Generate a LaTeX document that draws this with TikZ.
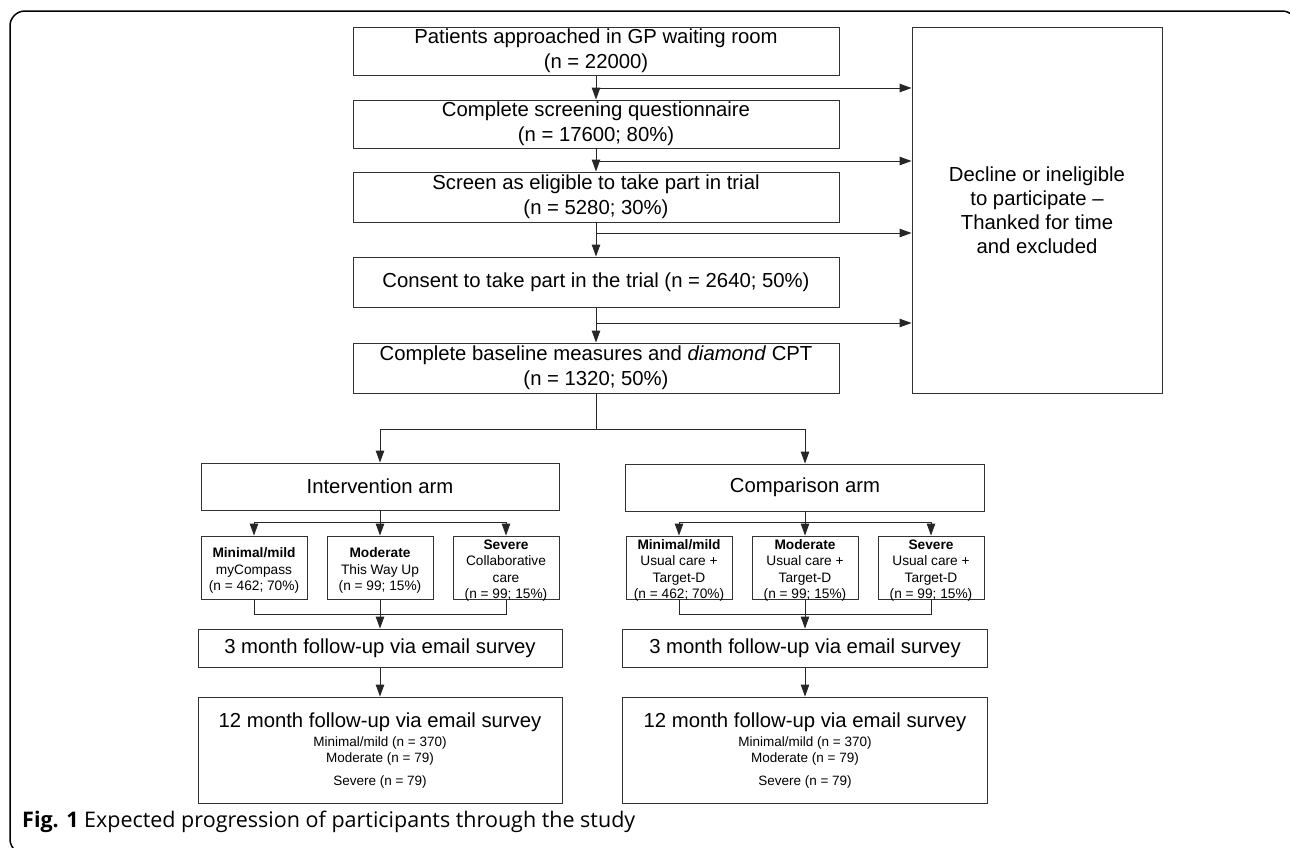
\documentclass[tikz,border=0pt]{standalone}
\usepackage{fontspec}
\setmainfont{Liberation Sans}
\newfontfamily\capfont{Open Sans}
\usetikzlibrary{arrows.meta,calc}
\begin{document}
\begin{tikzpicture}[x=1pt,y=-1pt,
  box/.style={draw=black!80, line width=0.9pt, inner sep=0pt, align=center,
    font=\fontsize{20.3}{25}\selectfont},
  sbox/.style={draw=black!80, line width=0.9pt, inner sep=0pt,
    minimum width=106pt, minimum height=63pt},
  stext/.style={inner sep=0pt, align=center, font=\fontsize{13.7}{16.5}\selectfont},
  bigtext/.style={inner sep=0pt, anchor=base, font=\fontsize{20.3}{25}\selectfont},
  subtext/.style={inner sep=0pt, anchor=base, font=\fontsize{13.5}{16}\selectfont},
  arr/.style={draw=black!85, line width=0.9pt, -{Triangle[length=12pt,width=8.5pt]}},
  ln/.style={draw=black!85, line width=0.9pt}]
\useasboundingbox (0,0) rectangle (1290,847);
\begin{scope}
  \clip (0,0) rectangle (1290,847);
  \draw[line width=1.5pt, rounded corners=15pt] (10,11) rectangle (1297,854);
\end{scope}

% main column
\node[box, minimum width=486pt, minimum height=48pt] (b1) at (596,51)
  {Patients approached in GP waiting room\\(n = 22000)};
\node[box, minimum width=486pt, minimum height=48pt] (b2) at (596,124)
  {Complete screening questionnaire\\(n = 17600; 80\%)};
\node[box, minimum width=486pt, minimum height=50pt] (b3) at (596,197)
  {Screen as eligible to take part in trial\\(n = 5280; 30\%)};
\node[box, minimum width=486pt, minimum height=50pt] (b4) at (596,282)
  {Consent to take part in the trial (n = 2640; 50\%)};
\node[box, minimum width=486pt, minimum height=50pt] (b5) at (596,368)
  {Complete baseline measures and \textit{diamond} CPT\\(n = 1320; 50\%)};
\node[box, minimum width=250pt, minimum height=366pt,
  font=\fontsize{20.3}{24}\selectfont] (dec) at (1037,210)
  {Decline or ineligible\\to participate –\\Thanked for time\\and excluded};

% arms
\node[box, minimum width=358pt, minimum height=47pt] (int) at (380,486.5) {Intervention arm};
\node[box, minimum width=359pt, minimum height=47pt] (cmp) at (805,487.5) {Comparison arm};

% intervention sub-boxes
\node[sbox] (iA) at (254,567.5) {};
\node[stext] (iAt) at (254,570.5) {\textbf{Minimal/mild}\\myCompass\\(n = 462; 70\%)};
\node[sbox] (iB) at (380,567.5) {};
\node[stext] (iBt) at (380,570.5) {\textbf{Moderate}\\This Way Up\\(n = 99; 15\%)};
\node[sbox] (iC) at (506,567.5) {};
\node[stext] (iCt) at (506,570.5) {\textbf{Severe}\\Collaborative\\care\\(n = 99; 15\%)};

% comparison sub-boxes
\node[sbox] (cA) at (679,567.5) {};
\node[stext] (cAt) at (679,570.5) {\textbf{Minimal/mild}\\Usual care +\\Target-D\\(n = 462; 70\%)};
\node[sbox] (cB) at (805,567.5) {};
\node[stext] (cBt) at (805,570.5) {\textbf{Moderate}\\Usual care +\\Target-D\\(n = 99; 15\%)};
\node[sbox] (cC) at (931,567.5) {};
\node[stext] (cCt) at (931,570.5) {\textbf{Severe}\\Usual care +\\Target-D\\(n = 99; 15\%)};

% follow-ups
\node[box, minimum width=364pt, minimum height=38pt] (i3) at (380,648) {3 month follow-up via email survey};
\node[box, minimum width=365pt, minimum height=38pt] (c3) at (805,648) {3 month follow-up via email survey};
\node[box, minimum width=364pt, minimum height=106pt] (i12) at (380,750) {};
\node[box, minimum width=365pt, minimum height=106pt] (c12) at (805,750) {};
\node[bigtext] (i12a) at (380,727) {12 month follow-up via email survey};
\node[subtext] (i12b) at (380,746.5) {Minimal/mild (n = 370)};
\node[subtext] (i12c) at (380,762.5) {Moderate (n = 79)};
\node[subtext] (i12d) at (380,785) {Severe (n = 79)};
\node[bigtext] (c12a) at (805,727) {12 month follow-up via email survey};
\node[subtext] (c12b) at (805,746.5) {Minimal/mild (n = 370)};
\node[subtext] (c12c) at (805,762.5) {Moderate (n = 79)};
\node[subtext] (c12d) at (805,785) {Severe (n = 79)};

% caption
\node[anchor=base west, inner sep=0pt, font=\capfont\fontsize{21.5}{25}\selectfont] (cap) at (22,827)
  {\textbf{Fig. 1} Expected progression of participants through the study};

% connectors main column
\draw[arr] (b1.south) -- (b2.north);
\draw[arr] (b2.south) -- (b3.north);
\draw[arr] (b3.south) -- (b4.north);
\draw[arr] (b4.south) -- (b5.north);
\coordinate (j1) at (596,88);
\coordinate (j2) at (596,161);
\coordinate (j3) at (596,233);
\coordinate (j4) at (596,323);
\draw[arr] (j1) -- (j1 -| dec.west);
\draw[arr] (j2) -- (j2 -| dec.west);
\draw[arr] (j3) -- (j3 -| dec.west);
\draw[arr] (j4) -- (j4 -| dec.west);

% split to arms
\coordinate (sp) at (596,429);
\draw[ln] (b5.south) -- (sp);
\draw[arr] (sp) -| (int.north);
\draw[arr] (sp) -| (cmp.north);

% intervention branches
\coordinate (is) at (380,522);
\draw[ln] (int.south) -- (is);
\draw[arr] (is) -| (iA.north);
\draw[arr] (is) -- (iB.north);
\draw[arr] (is) -| (iC.north);
\coordinate (im) at (380,614);
\draw[ln] (iA.south) |- (im);
\draw[ln] (iC.south) |- (im);
\draw[arr] (iB.south) -- (i3.north);
\draw[arr] (i3.south) -- (i12.north);

% comparison branches
\coordinate (cs) at (805,522);
\draw[ln] (cmp.south) -- (cs);
\draw[arr] (cs) -| (cA.north);
\draw[arr] (cs) -- (cB.north);
\draw[arr] (cs) -| (cC.north);
\coordinate (cm) at (805,614);
\draw[ln] (cA.south) |- (cm);
\draw[ln] (cC.south) |- (cm);
\draw[arr] (cB.south) -- (c3.north);
\draw[arr] (c3.south) -- (c12.north);
\end{tikzpicture}
\end{document}
